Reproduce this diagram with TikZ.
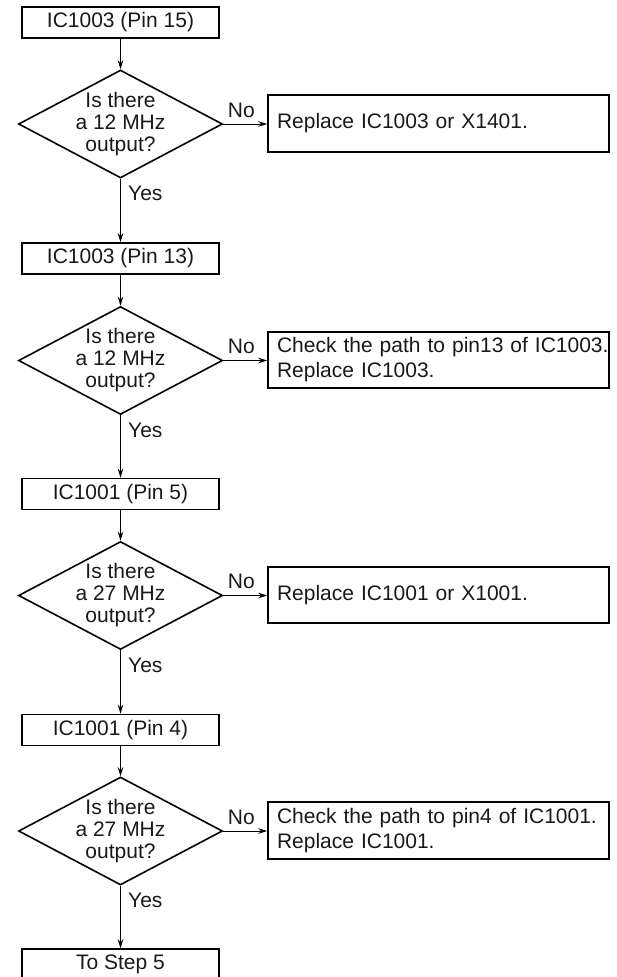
\documentclass[tikz,border=0pt]{standalone}
\usepackage{fontspec}
\setmainfont{Liberation Sans}
\usetikzlibrary{shapes.geometric,arrows.meta,calc}
\begin{document}
\begin{tikzpicture}[x=1pt,y=-1pt,
  every node/.style={font=\fontsize{21}{22}\selectfont,text=black!90},
  box/.style={draw,line width=1.6pt,minimum width=197pt,minimum height=31pt,inner sep=0pt},
  nobox/.style={draw,line width=1.6pt,minimum width=341pt,minimum height=#1,text width=323pt,inner xsep=9pt,inner ysep=0pt,align=left,font=\fontsize{21}{25}\selectfont},
  dia/.style={draw,diamond,line width=1.6pt,minimum width=204pt,minimum height=108pt,inner sep=0pt},
  dtext/.style={align=center,inner sep=0pt,font=\fontsize{21}{22}\selectfont},
  conn/.style={line width=0.9pt,-{Stealth[length=9pt,width=5.5pt]}},
  lbl/.style={inner sep=0pt}
]
\useasboundingbox (0,0) rectangle (617,977);

% main column
\node[box] (b1) at (120.5,22.5) {IC1003 (Pin 15)};
\node[dia] (d1) at (120.5,124) {};
\node[dtext] (t1) at (d1) {Is there\\a 12 MHz\\output?};
\node[nobox=57pt] (n1) at (438.5,123.5) {Replace IC1003 or X1401.};

\node[box] (b2) at (120.5,258.5) {IC1003 (Pin 13)};
\node[dia] (d2) at (120.5,360.5) {};
\node[dtext] (t2) at (d2) {Is there\\a 12 MHz\\output?};
\node[nobox=56pt] (n2) at (438.5,360) {\mbox{Check the path to pin13 of IC1003.}\\Replace IC1003.};

\node[box] (b3) at (120.5,494) {IC1001 (Pin 5)};
\node[dia] (d3) at (120.5,595.5) {};
\node[dtext] (t3) at (d3) {Is there\\a 27 MHz\\output?};
\node[nobox=56pt] (n3) at (438.5,595) {Replace IC1001 or X1001.};

\node[box] (b4) at (120.5,730) {IC1001 (Pin 4)};
\node[dia] (d4) at (120.5,831) {};
\node[dtext] (t4) at (d4) {Is there\\a 27 MHz\\output?};
\node[nobox=57pt] (n4) at (438.5,830.5) {\mbox{Check the path to pin4 of IC1001.}\\Replace IC1001.};

\node[box] (b5) at (120.5,964.5) {To Step 5};

% vertical connectors
\draw[conn] (b1.south) -- (d1.north);
\draw[conn] (d1.south) -- (b2.north);
\draw[conn] (b2.south) -- (d2.north);
\draw[conn] (d2.south) -- (b3.north);
\draw[conn] (b3.south) -- (d3.north);
\draw[conn] (d3.south) -- (b4.north);
\draw[conn] (b4.south) -- (d4.north);
\draw[conn] (d4.south) -- (b5.north);

% No connectors
\draw[conn] (d1.east) -- (d1.east -| n1.west);
\draw[conn] (d2.east) -- (d2.east -| n2.west);
\draw[conn] (d3.east) -- (d3.east -| n3.west);
\draw[conn] (d4.east) -- (d4.east -| n4.west);

% labels
\foreach \d in {d1,d2,d3,d4}{
  \node[lbl] at ($(\d.east)+(18,-14)$) {No};
  \node[lbl,anchor=west] at ($(\d.south)+(7.5,15)$) {Yes};
}
\end{tikzpicture}
\end{document}
